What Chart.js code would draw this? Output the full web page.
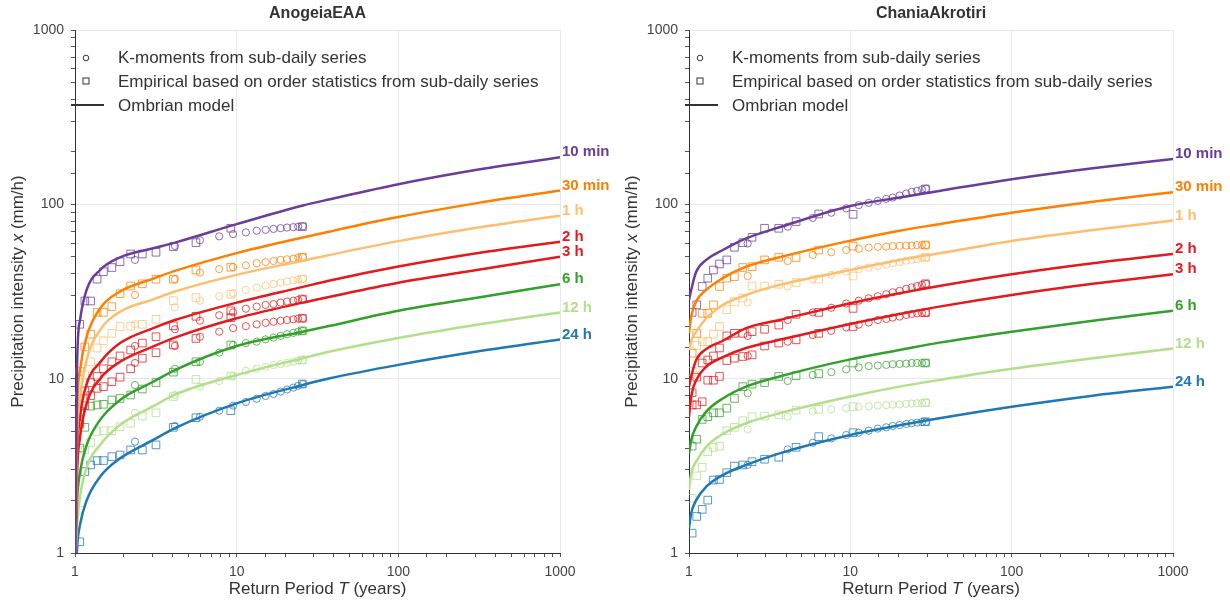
<!DOCTYPE html>
<html><head><meta charset="utf-8">
<script src="https://cdn.jsdelivr.net/npm/chart.js@4.4.1/dist/chart.umd.min.js"></script>
<style>
body{margin:0;background:#fff;width:1230px;height:601px;overflow:hidden;position:relative}
canvas{position:absolute;top:0}
</style></head><body>
<canvas id="c1" width="615" height="601" style="left:0"></canvas>
<canvas id="c2" width="615" height="601" style="left:615px"></canvas>
<script>
// ---------- data ----------
const DURATIONS = ['10 min','30 min','1 h','2 h','3 h','6 h','12 h','24 h'];
const AXIS_TICKS = [1, 10, 100, 1000];

// Left panel: AnogeiaEAA
const L_MODEL_T = [1.005, 1.03, 1.074, 1.18, 1.43, 1.9, 3.05, 4.15, 10, 25.7, 37.8, 100, 320, 1000];
const L_MODEL = [
  [1, 12, 21.7, 32.3, 42, 49.7, 56, 60.3, 77, 98.5, 107, 130.5, 158.9, 186.3],
  [1, 6.5, 11.2, 17.4, 25.3, 31.6, 37.5, 41.5, 52.5, 64.5, 69.9, 84.5, 102.3, 119.9],
  [1, 4.5, 7.7, 12.8, 19, 24.2, 28.5, 31.6, 39.4, 47.5, 51.3, 61.5, 73.9, 86.1],
  [1, 3.6, 6, 9.3, 12.4, 16, 19.5, 21.7, 27.3, 33.6, 36.6, 44.0, 52.8, 61.1],
  [1, 2.9, 4.6, 7.2, 10, 12.5, 15.3, 17.2, 22.2, 27.3, 29.5, 35.5, 42.3, 50.1],
  [1, 2.0, 2.9, 4.15, 5.8, 7.55, 9.6, 11.2, 15.4, 18.6, 20.1, 24.5, 29.3, 34.8],
  [0.9, 1.45, 2.1, 3.1, 4.17, 5.42, 6.95, 8.1, 10.5, 13.1, 14.3, 17.1, 20.5, 24.0],
  [0.55, 1.06, 1.45, 2.0, 2.74, 3.49, 4.45, 5.2, 7.22, 9.2, 10.05, 12.0, 14.4, 16.8]
];
const L_KMOM_T = [2.35, 4.15, 5.93, 7.8, 9.5, 11.4, 13.3, 15.1, 16.9, 18.7, 20.5, 22.4, 24.0, 25.7];
const L_KMOM = [
  [48.0, 57.7, 62.2, 65.5, 67.5, 69.0, 70.6, 71.4, 72.3, 73.0, 73.6, 74.0, 74.4, 74.8],
  [30.2, 37.2, 40.6, 42.5, 43.6, 44.7, 45.9, 46.6, 47.3, 48.0, 48.4, 48.8, 49.3, 49.7],
  [20.5, 25.7, 28.0, 29.7, 30.9, 32.3, 33.3, 34.2, 35.0, 35.6, 36.1, 36.6, 37.0, 37.3],
  [15.4, 19.2, 21.5, 23.1, 24.0, 25.2, 25.9, 26.5, 26.8, 27.3, 27.7, 28.0, 28.3, 28.6],
  [12.3, 15.4, 17.4, 18.6, 19.5, 20.0, 20.5, 20.9, 21.2, 21.5, 21.7, 21.9, 22.1, 22.2],
  [9.2, 11.4, 12.5, 14.1, 15.6, 16.0, 16.3, 16.8, 17.2, 17.6, 18.0, 18.3, 18.6, 18.8],
  [6.37, 8.06, 9.0, 9.7, 10.36, 11.1, 11.4, 11.7, 11.96, 12.1, 12.3, 12.5, 12.7, 12.8],
  [4.35, 5.35, 6.05, 6.55, 7.0, 7.35, 7.67, 7.96, 8.17, 8.43, 8.67, 8.88, 9.1, 9.32]
];
const L_EMP_T = [1.07, 1.15, 1.25, 1.37, 1.50, 1.69, 1.90, 2.21, 2.61, 3.17, 4.06, 5.6, 9.2, 25.5];
const L_EMP = [
  [20.5, 27.9, 27.9, 37.2, 41.1, 43.4, 46.9, 51.9, 51.9, 53.1, 57.2, 60.3, 72.9, 74.4],
  [11.0, 15.2, 18.0, 24.0, 24.0, 25.9, 30.7, 34.0, 35.0, 37.2, 37.2, 42.0, 43.6, 49.7],
  [8.0, 10.5, 12.5, 15.0, 16.5, 18.2, 19.9, 20.0, 20.5, 21.9, 28.0, 29.2, 30.5, 37.3],
  [6.5, 8.5, 9.5, 10.3, 11.4, 12.5, 13.5, 14.6, 16.0, 17.4, 20.1, 22.8, 24.5, 28.6],
  [5.5, 7.0, 8.0, 8.8, 9.0, 9.6, 10.2, 11.4, 13.1, 14.1, 15.6, 17.0, 22.4, 22.2],
  [4.0, 5.26, 6.96, 7.07, 7.13, 7.55, 7.7, 8.06, 8.72, 9.5, 10.9, 12.5, 15.6, 18.8],
  [1.76, 3.9, 4.3, 4.97, 5.03, 5.03, 5.3, 5.55, 6.1, 6.37, 7.9, 9.9, 10.36, 12.8],
  [1.16, 2.93, 3.2, 3.39, 3.39, 3.57, 3.65, 3.9, 3.9, 4.17, 5.26, 5.97, 6.55, 9.32]
];

// Right panel: ChaniaAkrotiri
const R_MODEL_T = [1.0, 1.032, 1.108, 1.278, 1.62, 2.26, 3.64, 10, 20.2, 35.6, 100, 318, 1000];
const R_MODEL = [
  [28.3, 32.3, 41, 48, 54.7, 63.8, 73.9, 97.9, 109.5, 119.4, 139.3, 161, 182.3],
  [18.2, 22.7, 27.7, 32.3, 37.7, 43.9, 49.7, 61.9, 70.6, 76.9, 89.6, 103.6, 117.3],
  [14.6, 16.5, 18.6, 22.2, 26.5, 30.2, 34.5, 42, 48, 52.4, 61.7, 71.3, 80.7],
  [9.0, 10.3, 12.8, 14.8, 16.5, 19.5, 21.7, 27.1, 30.9, 34.0, 39.7, 45.9, 51.9],
  [6.05, 7.9, 9.8, 11.7, 13.3, 15.0, 16.7, 20.6, 23.5, 25.9, 30.2, 35.0, 39.7],
  [3.73, 4.45, 5.3, 6.47, 7.7, 9.0, 10.3, 12.9, 14.6, 16.1, 18.6, 21.5, 24.5],
  [2.3, 2.87, 3.34, 4.07, 4.82, 5.55, 6.33, 7.9, 9.0, 9.83, 11.4, 13.1, 14.9],
  [1.39, 1.69, 2.01, 2.4, 2.8, 3.2, 3.73, 4.75, 5.4, 5.93, 6.9, 7.99, 9.0]
];
const R_KMOM_T = [2.31, 4.09, 5.85, 7.62, 9.43, 11.27, 13.0, 14.8, 16.7, 18.3, 20.2, 22.2, 24.0, 25.9, 27.8, 29.5];
const R_KMOM = [
  [59.6, 74.4, 83.6, 89.5, 94.8, 98.9, 101.9, 104.7, 107.5, 109.4, 112.4, 115.4, 118.0, 119.6, 121.7, 123.0],
  [38.8, 47.3, 51.3, 53.1, 54.7, 55.7, 56.5, 57.0, 57.2, 57.6, 57.8, 58.0, 58.0, 58.4, 58.4, 58.4],
  [27.3, 33.8, 37.2, 39.4, 41.1, 42.5, 43.4, 44.3, 45.0, 45.9, 46.6, 47.5, 48.1, 48.5, 49.2, 49.7],
  [17.6, 21.7, 24.0, 25.5, 27.0, 28.0, 28.9, 29.7, 30.5, 31.3, 31.9, 32.8, 33.4, 34.0, 34.5, 35.0],
  [13.5, 16.3, 17.8, 18.8, 19.7, 20.4, 21.0, 21.7, 22.0, 22.4, 22.7, 23.2, 23.5, 23.7, 23.8, 23.9],
  [8.25, 9.7, 10.5, 10.9, 11.3, 11.6, 11.8, 11.9, 12.0, 12.1, 12.15, 12.2, 12.3, 12.3, 12.3, 12.3],
  [5.12, 6.05, 6.5, 6.67, 6.77, 6.9, 6.95, 7.0, 7.05, 7.1, 7.12, 7.17, 7.2, 7.23, 7.25, 7.28],
  [3.2, 3.93, 4.29, 4.54, 4.75, 4.9, 5.03, 5.17, 5.26, 5.35, 5.42, 5.5, 5.55, 5.6, 5.64, 5.66]
];
const R_EMP_T = [1.046, 1.117, 1.207, 1.307, 1.418, 1.545, 1.715, 1.913, 2.155, 2.46, 2.94, 3.6, 4.61, 6.37, 10.4, 29.2];
const R_EMP = [
  [24, 26.5, 33.8, 37.7, 42.0, 45.5, 48.0, 56.7, 60.3, 64.7, 72.9, 72.9, 79.6, 88.0, 87.6, 122.5],
  [14, 18.2, 23.7, 23.7, 26.5, 33.8, 37.7, 38.5, 43.4, 43.9, 48.0, 49.7, 49.5, 54.7, 57.6, 58.4],
  [11, 15.5, 16.3, 16.3, 18.0, 19.9, 24.9, 27.7, 29.0, 34.0, 34.0, 34.8, 35.6, 37.2, 38.8, 49.7],
  [8.3, 10.2, 12.3, 12.8, 13.5, 15.0, 17.6, 18.2, 18.2, 18.6, 19.2, 20.3, 23.4, 24.0, 25.3, 35.0],
  [7.07, 7.07, 7.37, 9.8, 9.8, 10.3, 12.7, 13.1, 13.4, 13.7, 15.4, 16.0, 16.7, 18.2, 19.9, 23.9],
  [4.1, 4.49, 5.84, 6.05, 6.37, 6.37, 6.77, 7.7, 9.0, 9.3, 9.5, 10.3, 10.4, 10.7, 12.3, 12.3],
  [2.06, 2.77, 3.1, 3.81, 4.03, 4.1, 5.03, 5.26, 5.74, 6.05, 6.1, 6.2, 6.6, 6.67, 6.9, 7.28],
  [1.30, 1.62, 1.78, 2.01, 2.62, 2.64, 2.89, 3.15, 3.2, 3.34, 3.45, 3.54, 4.04, 4.65, 4.9, 5.66]
];

// ---------- styles ----------
const COLORS = ['#6a3d9a','#ff7f00','#fdbf6f','#e31a1c','#e31a1c','#33a02c','#b2df8a','#1f78b4'];
const FONT = '"Liberation Sans", Arial, Helvetica, sans-serif';
function rgba(hex, a){
  const n = parseInt(hex.slice(1), 16);
  return `rgba(${(n>>16)&255},${(n>>8)&255},${n&255},${a})`;
}
function pts(xs, ys){ return xs.map((x,i)=>({x:x, y:ys[i]})); }
function isPow10(v){ const l = Math.log10(v); return Math.abs(l - Math.round(l)) < 1e-9; }

const decor = {
  id: 'decor',
  afterDraw(chart, args, o){
    const ctx = chart.ctx, a = chart.chartArea;
    ctx.save();
    ctx.fillStyle = '#333';
    ctx.textBaseline = 'middle';
    // title
    ctx.font = 'bold 16px ' + FONT;
    ctx.textAlign = 'center';
    ctx.fillText(o.title, (a.left + a.right)/2, 14);
    // axis titles with italic symbol
    const rich = (parts, x, y) => {
      let tot = 0;
      parts.forEach(p => { ctx.font = p[1] + '17px ' + FONT; p.w = ctx.measureText(p[0]).width; tot += p.w; });
      let cx = x - tot/2;
      ctx.textAlign = 'left';
      parts.forEach(p => { ctx.font = p[1] + '17px ' + FONT; ctx.fillText(p[0], cx, y); cx += p.w; });
    };
    rich([['Return Period ',''],['T','italic '],[' (years)','']], (a.left + a.right)/2, 589);
    ctx.save();
    ctx.translate(o.yTitleX, (a.top + a.bottom)/2);
    ctx.rotate(-Math.PI/2);
    rich([['Precipitation intensity ',''],['x','italic '],[' (mm/h)','']], 0, 0);
    ctx.restore();
    // legend
    const lx = a.left + 11;
    ctx.strokeStyle = '#333';
    ctx.lineWidth = 1;
    ctx.beginPath(); ctx.arc(lx, 58, 2.8, 0, Math.PI*2); ctx.stroke();
    ctx.strokeRect(lx - 3, 78, 6, 6);
    ctx.lineWidth = 2;
    ctx.beginPath(); ctx.moveTo(a.left - 4, 105); ctx.lineTo(a.left + 29, 105); ctx.stroke();
    ctx.font = '17px ' + FONT;
    ctx.textAlign = 'left';
    ctx.fillStyle = '#333';
    ctx.fillText('K-moments from sub-daily series', a.left + 43, 58);
    ctx.fillText('Empirical based on order statistics from sub-daily series', a.left + 43, 82);
    ctx.fillText('Ombrian model', a.left + 43, 106);
    // duration labels at curve ends
    ctx.font = 'bold 15px ' + FONT;
    chart.data.datasets.forEach((ds, i) => {
      if (!ds.isModel) return;
      const meta = chart.getDatasetMeta(i);
      const el = meta.data[meta.data.length - 1];
      ctx.fillStyle = ds.borderColor;
      ctx.fillText(ds.label, el.x + 2, el.y - 5);
    });
    ctx.restore();
  }
};

function buildDatasets(mT, mV, kT, kV, eT, eV){
  const ds = [];
  DURATIONS.forEach((d, i) => {
    ds.push({label: d, isModel: true, data: pts(mT, mV[i]), showLine: true, borderColor: COLORS[i],
      borderWidth: 2.5, pointRadius: 0, cubicInterpolationMode: 'monotone', order: 0});
  });
  DURATIONS.forEach((d, i) => {
    ds.push({label: d + ' K', data: pts(kT, kV[i]), showLine: false, pointStyle: 'circle', pointRadius: 3.6,
      borderColor: rgba(COLORS[i], 0.75), backgroundColor: 'rgba(0,0,0,0)', pointBorderWidth: 1, order: 1});
    ds.push({label: d + ' E', data: pts(eT, eV[i]), showLine: false, pointStyle: 'rect', pointRadius: 5.4,
      borderColor: rgba(COLORS[i], 0.75), backgroundColor: 'rgba(0,0,0,0)', pointBorderWidth: 1, order: 1});
  });
  return ds;
}

function axis(afterFitFn){
  return {
    type: 'logarithmic', min: AXIS_TICKS[0], max: AXIS_TICKS[AXIS_TICKS.length-1],
    afterFit: afterFitFn,
    border: {display: true, color: '#333', width: 1},
    grid: {
      color: c => (c.tick && isPow10(c.tick.value)) ? '#e9e9e9' : 'rgba(0,0,0,0)',
      tickColor: '#555', tickLength: 4, lineWidth: 1, drawTicks: true
    },
    ticks: {
      autoSkip: false, maxRotation: 0, color: '#444', padding: 7,
      font: {family: FONT, size: 14},
      callback: v => AXIS_TICKS.includes(v) ? String(v) : ''
    }
  };
}

function makeChart(id, title, yW, rightPad, yTitleX, mT, mV, kT, kV, eT, eV){
  return new Chart(document.getElementById(id), {
    type: 'scatter',
    data: {datasets: buildDatasets(mT, mV, kT, kV, eT, eV)},
    options: {
      responsive: false, animation: false, events: [],
      layout: {padding: {top: 30, right: rightPad, left: 0, bottom: 0}},
      plugins: {legend: {display: false}, tooltip: {enabled: false}, title: {display: false},
        decor: {title: title, yTitleX: yTitleX}},
      scales: {
        x: axis(s => { s.height = 48; }),
        y: axis(s => { s.width = yW; })
      }
    },
    plugins: [decor]
  });
}

makeChart('c1', 'AnogeiaEAA', 75, 55, 18, L_MODEL_T, L_MODEL, L_KMOM_T, L_KMOM, L_EMP_T, L_EMP);
makeChart('c2', 'ChaniaAkrotiri', 74, 57, 17, R_MODEL_T, R_MODEL, R_KMOM_T, R_KMOM, R_EMP_T, R_EMP);
</script>
</body></html>
